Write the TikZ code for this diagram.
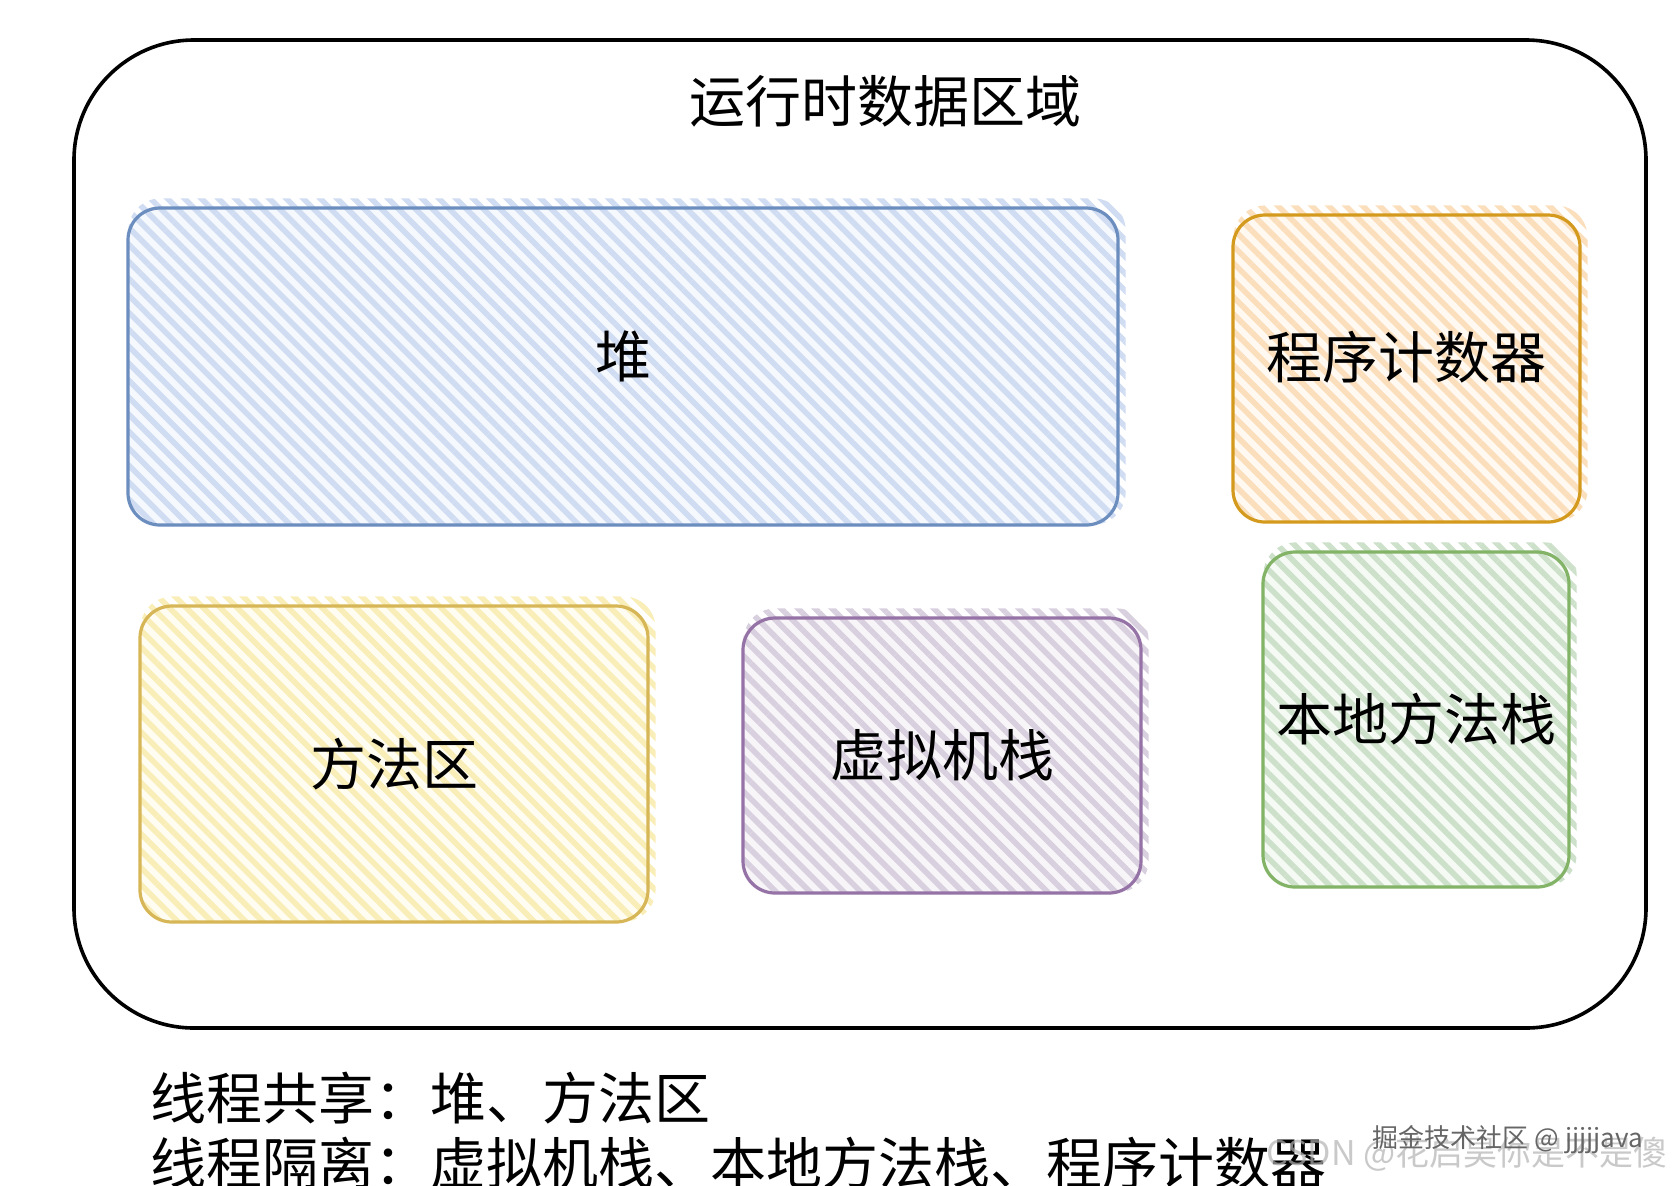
\documentclass[tikz,border=0pt]{standalone}
\usepackage{fontspec}
\setmainfont{Noto Sans CJK SC}
\usetikzlibrary{patterns.meta,backgrounds}

\definecolor{lineheap}{HTML}{6C8EBF}
\definecolor{fillheap}{HTML}{F5F8FD}
\definecolor{hatchheap}{HTML}{CFDCF2}
\definecolor{linepc}{HTML}{D49A1E}
\definecolor{fillpc}{HTML}{FFF9F1}
\definecolor{hatchpc}{HTML}{FBDFBC}
\definecolor{linema}{HTML}{D6B656}
\definecolor{fillma}{HTML}{FFFDF2}
\definecolor{hatchma}{HTML}{F9EDB8}
\definecolor{linevm}{HTML}{9673A6}
\definecolor{fillvm}{HTML}{F8F5F9}
\definecolor{hatchvm}{HTML}{D8D0DE}
\definecolor{linenm}{HTML}{82B366}
\definecolor{fillnm}{HTML}{F5FAF4}
\definecolor{hatchnm}{HTML}{CDE1CA}

\begin{document}
\begin{tikzpicture}[x=0.5pt,y=-0.5pt,
		big/.style={font=\fontsize{28}{34}\selectfont,inner sep=0pt},
		area/.style={big,draw=line#1,line width=1.6pt,rounded corners=16pt},
		hatch/.style={pattern={Lines[angle=-45,distance=6pt,line width=2.8pt]},pattern color=hatch#1}]
		\useasboundingbox (0,0) rectangle (1672,1185);
		\node [draw,line width=1.8pt,rounded corners=60pt,minimum width=786pt,minimum height=494pt] (rda) at (860,534) {};
		\node [big] (title) at (885,101) {运行时数据区域};
		\node [area=heap,minimum width=495pt,minimum height=158.5pt] (heap) at (623,366.5) {\raisebox{12pt}{堆}};
		\node [area=pc,minimum width=173.5pt,minimum height=153.5pt] (pc) at (1406.5,368.5) {\raisebox{14pt}{程序计数器}};
		\node [area=ma,minimum width=254pt,minimum height=158pt] (ma) at (394,764) {\raisebox{-7pt}{方法区}};
		\node [area=vm,minimum width=199pt,minimum height=137.5pt] (vm) at (942,755.5) {虚拟机栈};
		\node [area=nm,minimum width=153pt,minimum height=167.5pt] (nm) at (1416,719.5) {\raisebox{-5pt}{本地方法栈}};
		\begin{scope}[on background layer]
			\foreach \n in {heap,pc,ma,vm,nm} {
				\fill [fill\n,rounded corners=16pt] (\n.south west) rectangle (\n.north east);
				\fill [hatch=\n,rounded corners=16pt] ([shift={(2,-2)}]\n.south west) rectangle ([shift={(6,-8)}]\n.north east);
			}
		\end{scope}
		\node [big,anchor=west] (shared) at (150,1098) {线程共享：堆、方法区};
		\node [big,anchor=west] (isolated) at (150,1163) {线程隔离：虚拟机栈、本地方法栈、程序计数器};
		\node [anchor=east,inner sep=0pt,text=black!30,opacity=.7,font=\fontsize{17}{20}\selectfont] (csdn) at (1668,1154) {CSDN @花启昊你是不是傻};
		\node [inner sep=0pt,text=black!60,font=\fontsize{13}{15}\selectfont] (juejin) at (1508,1140) {掘金技术社区 @ jjjjjava};
	\end{tikzpicture}
\end{document}
